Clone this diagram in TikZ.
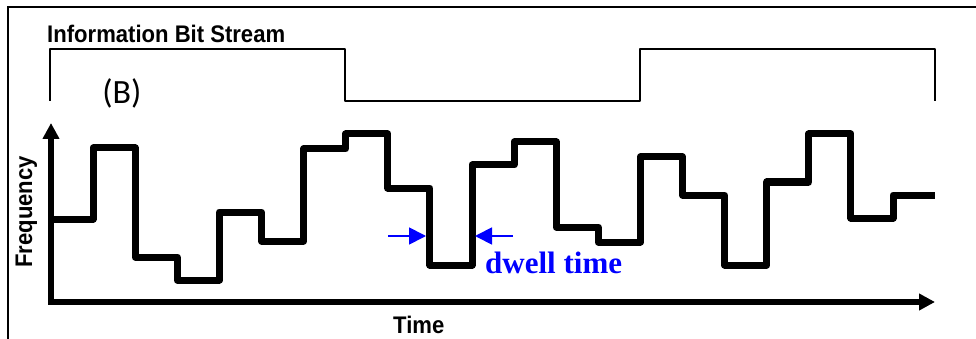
\documentclass[tikz,border=0pt]{standalone}
\usepackage{fontspec}
\usepackage{tikz}
\usetikzlibrary{arrows.meta,positioning}
\newfontfamily\condsans[FakeStretch=0.92]{Liberation Sans}
\newfontfamily\panelfont{Carlito}
\newfontfamily\dwellfont{Liberation Serif}
\definecolor{dwellblue}{RGB}{0,0,255}
\tikzset{
frame/.style={draw=black,line width=2pt},
bitline/.style={draw=black,line width=2.7pt,line join=round},
hopline/.style={draw=black,line width=7pt,line join=round},
axisline/.style={draw=black,line width=5.5pt,{Triangle[length=16pt,width=16pt]}-{Triangle[length=16pt,width=16pt]}},
axislabel/.style={font=\condsans\bfseries\fontsize{24}{28}\selectfont,inner sep=0pt},
dwellarrow/.style={-{Triangle[length=17pt,width=17pt]},draw=dwellblue,line width=1.8pt},
dwelllabel/.style={font=\dwellfont\bfseries\fontsize{31}{34}\selectfont,text=dwellblue,inner sep=0pt}
}
\begin{document}
\begin{tikzpicture}[x=1pt,y=-1pt]
\useasboundingbox (0,0) rectangle (976,339);
% border of the panel
\draw[frame] (8,339) -- (8,7) -- (976,7);
% bit stream
\node[axislabel,anchor=base west] (stream) at (47,43) {Information Bit Stream};
\node[font=\panelfont\fontsize{34}{38}\selectfont,inner sep=0pt,anchor=base] (panel) at (122,104) {(B)};
\draw[bitline] (50,101) -- (50,49) -- (345,49) -- (345,101) -- (640,101) -- (640,49) -- (935,49) -- (935,101);
% frequency hops
\draw[hopline] (51,219) foreach \lvl [count=\i] in {219,148,257,280,212,241,149,134,188,265,165,142,227,242,157,195,265,182,134,218,195}
  { -- ({51+(\i-1)*42.1},\lvl) -- ({51+\i*42.1},\lvl) };
% axes
\draw[axisline] (51,123) -- (51,302) -- (935,302);
\node[axislabel,rotate=90,anchor=base west] (freq) at (32,268) {Frequency};
\node[axislabel,anchor=base west] (time) at (393,333) {Time};
% dwell time
\coordinate (dwellL) at (388,236);
\coordinate (dwellR) at (513,236);
\draw[dwellarrow] (dwellL) -- (426,236);
\draw[dwellarrow] (dwellR) -- (475,236);
\node[dwelllabel,anchor=base west] (dwell) at (485,273) {dwell time};
\end{tikzpicture}
\end{document}
